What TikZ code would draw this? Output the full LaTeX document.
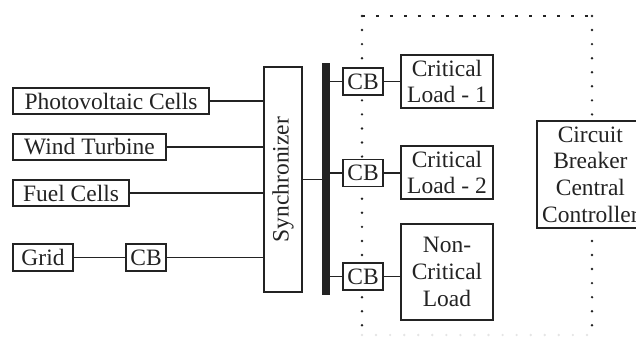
\documentclass[tikz,border=0pt]{standalone}
\usepackage{fontspec}
\setmainfont{Liberation Serif}
\usepackage{graphicx}
\usepackage{tikz}
\usepackage{xcolor}
\definecolor{wiregray}{RGB}{35,35,35}

\tikzset{
  block/.style={draw=wiregray, fill=white, line width=1.1pt, inner sep=0pt, align=center,
    text=wiregray, font=\fontsize{16.7}{19}\selectfont},
  cbbox/.style={block, minimum width=1cm, minimum height=0.675cm},
  wire/.style={draw=wiregray, line width=0.75pt},
  zone/.style={draw=wiregray, line width=1.9pt, line cap=round, dash pattern=on 0pt off 10pt}
}

\begin{document}
\begin{tikzpicture}
    \useasboundingbox (0,0) rectangle (15.9,8.45);

    % Controlled zone
    \draw[zone, line width=1.6pt, line cap=butt, dash pattern=on 2.2pt off 7.7pt] (9.05,8.05) -- (14.8,8.05);
    \draw[zone] (9.05,8.05) -- (9.05,0.075);
    \draw[zone] (14.8,8.05) -- (14.8,0.075);
    \draw[zone, draw=gray!20] (9.05,0.075) -- (14.8,0.075);

    % Sources
    \node[block, minimum width=4.9cm, minimum height=0.65cm] (pv) at (2.775,5.925) {Photovoltaic Cells};
    \node[block, minimum width=3.825cm, minimum height=0.65cm] (wind) at (2.2375,4.775) {Wind Turbine};
    \node[block, minimum width=2.9cm, minimum height=0.65cm] (fuel) at (1.775,3.625) {Fuel Cells};
    \node[block, minimum width=1.5cm, minimum height=0.675cm] (grid) at (1.075,2.0125) {Grid};
    \node[cbbox] (cbgrid) at (3.65,2.0125) {CB};

    % Synchronizer and bus
    \node[block, minimum width=0.95cm, minimum height=5.625cm] (sync) at (7.075,3.9625) {\rotatebox{90}{Synchronizer}};
    \node[fill=wiregray, minimum width=0.2cm, minimum height=5.8cm, inner sep=0pt] (bus) at (8.15,3.975) {};

    % Loads
    \node[cbbox] (cb1) at (9.075,6.4125) {CB};
    \node[cbbox] (cb2) at (9.075,4.125) {CB};
    \node[cbbox] (cb3) at (9.075,1.5375) {CB};
    \node[block, minimum width=2.3cm, minimum height=1.325cm] (load1) at (11.175,6.4125) {Critical\\Load - 1};
    \node[block, minimum width=2.3cm, minimum height=1.325cm] (load2) at (11.175,4.1375) {Critical\\Load - 2};
    \node[block, minimum width=2.3cm, minimum height=2.4cm] (load3) at (11.175,1.65) {Non-\\Critical\\Load};

    % Controller
    \node[block, minimum width=2.675cm, minimum height=2.675cm] (ctrl) at (14.76,4.0875) {Circuit\\Breaker\\Central\\Controller};

    % Wires
    \draw[wire] (pv.east) -- (pv.east -| sync.west);
    \draw[wire] (wind.east) -- (wind.east -| sync.west);
    \draw[wire] (fuel.east) -- (fuel.east -| sync.west);
    \draw[wire] (grid) -- (cbgrid);
    \draw[wire] (cbgrid.east) -- (cbgrid.east -| sync.west);
    \draw[wire] (sync.east) -- (sync.east -| bus.west);
    \draw[wire] (cb1.west -| bus.east) -- (cb1.west);
    \draw[wire] (cb2.west -| bus.east) -- (cb2.west);
    \draw[wire] (cb3.west -| bus.east) -- (cb3.west);
    \draw[wire] (cb1) -- (load1);
    \draw[wire] (cb2.east) -- (cb2.east -| load2.west);
    \draw[wire] (cb3.east) -- (cb3.east -| load3.west);
\end{tikzpicture}
\end{document}
